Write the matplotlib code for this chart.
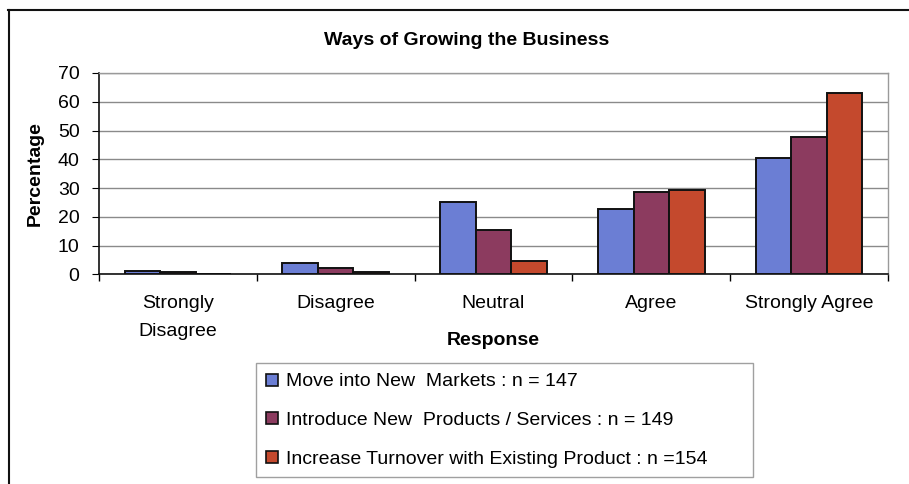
import numpy as np
import matplotlib.pyplot as plt
from matplotlib.lines import Line2D

plt.rcParams['font.family'] = ['Liberation Sans', 'DejaVu Sans']

responses = ['Strongly\nDisagree', 'Disagree', 'Neutral', 'Agree', 'Strongly Agree']
new_markets = [1.2, 4.1, 25.3, 22.6, 40.3]
new_products = [0.7, 2.4, 15.6, 28.6, 47.8]
turnover = [0.0, 0.7, 4.8, 29.5, 62.9]

series_labels = ['Move into New  Markets : n = 147',
                 'Introduce New  Products / Services : n = 149',
                 'Increase Turnover with Existing Product : n =154']
colors = ['#6b7ed4', '#8c3b5f', '#c4492d']

fig = plt.figure(figsize=(9.09, 4.84), dpi=100)
ax = fig.add_axes([0.1089, 0.4329, 0.8680, 0.4163])

x = np.arange(len(responses))
width = 0.225
for i, (vals, col) in enumerate(zip([new_markets, new_products, turnover], colors)):
    ax.bar(x + (i - 1) * width, vals, width, color=col, edgecolor='#111111',
           linewidth=1.4, zorder=3)

ax.set_xlim(-0.5, len(responses) - 0.5)
ax.set_ylim(0, 70)
ax.set_yticks(range(0, 71, 10))
ax.yaxis.grid(True, color='#8a8a8a', linewidth=1.0, zorder=0)

# category labels at bar group centres, tick marks on the boundaries
ax.set_xticks(np.arange(-0.5, len(responses)), labels=[''] * (len(responses) + 1))
ax.set_xticks(x, labels=responses, minor=True)
ax.tick_params(axis='x', which='minor', length=0, pad=15, labelsize=14)
ax.tick_params(axis='x', which='major', length=5, width=1, direction='out')
ax.tick_params(axis='y', labelsize=14, length=5, direction='out', pad=9)
for lab in ax.get_xticklabels(minor=True):
    lab.set_linespacing(1.85)

for s in ['left', 'bottom']:
    ax.spines[s].set_color('#111111')
    ax.spines[s].set_linewidth(1.2)
for s in ['right', 'top']:
    ax.spines[s].set_color('#9a9a9a')
    ax.spines[s].set_linewidth(1.0)

ax.set_ylabel('Percentage', fontsize=14, fontweight='bold', va='center')
ax.yaxis.set_label_coords(-0.081, 0.5)
ax.set_xlabel('Response', fontsize=14, fontweight='bold', va='center')
ax.xaxis.set_label_coords(0.5, -0.33)
fig.text(0.513, 0.917, 'Ways of Growing the Business', ha='center', va='center',
         fontsize=14, fontweight='bold')

handles = [Line2D([], [], marker='s', linestyle='none', markersize=8,
                  markerfacecolor=c, markeredgecolor='#111111', markeredgewidth=1.2)
           for c in colors]
leg = fig.legend(handles, series_labels, loc='upper left',
                 bbox_to_anchor=(0.2816, -0.05, 0.547, 0.30), mode='expand',
                 fontsize=14, frameon=True, fancybox=False, borderpad=0.5,
                 handlelength=0.6, handletextpad=0.45, labelspacing=1.08,
                 borderaxespad=0)
leg.get_frame().set_edgecolor('#888888')
leg.get_frame().set_linewidth(1.0)

# outer chart frame (top and left edges)
fig.add_artist(Line2D([0.009, 1.0], [0.979, 0.979], color='#111111', linewidth=1.5))
fig.add_artist(Line2D([0.010, 0.010], [0.0, 0.979], color='#111111', linewidth=1.5))

fig.savefig('out.png', dpi=100)
